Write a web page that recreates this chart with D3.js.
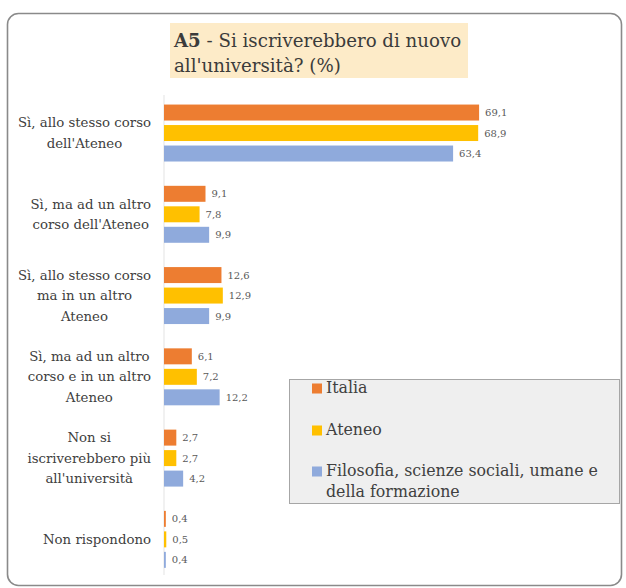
<!DOCTYPE html>
<html>
<head>
<meta charset="utf-8">
<script src="https://cdn.jsdelivr.net/npm/d3@7"></script>
<style>
  html, body { margin: 0; padding: 0; background: #fff; }
  svg { display: block; }
</style>
</head>
<body>
<svg id="chart" width="626" height="588"></svg>
<script>
// ---- data ----
const categories = [
  ["Sì, allo stesso corso", "dell'Ateneo"],
  ["Sì, ma ad un altro", "corso dell'Ateneo"],
  ["Sì, allo stesso corso", "ma in un altro", "Ateneo"],
  ["Sì, ma ad un altro", "corso e in un altro", "Ateneo"],
  ["Non si", "iscriverebbero più", "all'università"],
  ["Non rispondono"]
];
const seriesNames = ["Italia", "Ateneo", "Filosofia, scienze sociali, umane e della formazione"];
const italia    = [69.1, 9.1, 12.6, 6.1, 2.7, 0.4];
const ateneo    = [68.9, 7.8, 12.9, 7.2, 2.7, 0.5];
const filosofia = [63.4, 9.9, 9.9, 12.2, 4.2, 0.4];
const seriesValues = [italia, ateneo, filosofia];
const colors = ["#ED7D31", "#FFC000", "#8FAADC"];
const titleBold = "A5";
const titleLines = [" - Si iscriverebbero di nuovo", "all'università? (%)"];
const legendLines = [["Italia"], ["Ateneo"], ["Filosofia, scienze sociali, umane e", "della formazione"]];

const serif = '"DejaVu Serif", "Liberation Serif", serif';
const svg = d3.select("#chart");

// frame
svg.append("rect")
  .attr("x", 7.5).attr("y", 13.5).attr("width", 614).attr("height", 572)
  .attr("rx", 11).attr("ry", 11)
  .attr("fill", "#fff").attr("stroke", "#8a8a8a").attr("stroke-width", 1.6);

// title
svg.append("rect")
  .attr("x", 170).attr("y", 23).attr("width", 298).attr("height", 55)
  .attr("fill", "#FDEBC8");
const t1 = svg.append("text").attr("x", 174).attr("y", 47)
  .style("font-family", serif).attr("font-size", 18.2).attr("fill", "#3b3b3b");
t1.append("tspan").attr("font-weight", "bold").text(titleBold);
t1.append("tspan").text(titleLines[0]);
svg.append("text").attr("x", 174).attr("y", 72)
  .style("font-family", serif).attr("font-size", 18.2).attr("fill", "#3b3b3b")
  .text(titleLines[1]);

// scales
const x0 = 164;
const x = d3.scaleLinear().domain([0, 70]).range([x0, x0 + 319.2]);
const idx = d3.range(categories.length);
const y = d3.scaleBand().domain(idx).range([92.4, 580]).padding(0);
const yIn = d3.scaleBand().domain([0, 1, 2]).range([0, y.bandwidth()])
  .paddingInner(0.22).paddingOuter(0.593);

// axis line
svg.append("line")
  .attr("x1", x0).attr("x2", x0).attr("y1", 95).attr("y2", 575)
  .attr("stroke", "#e3e3e3").attr("stroke-width", 1);

// bars
const groups = svg.append("g").selectAll("g").data(idx).join("g")
  .attr("transform", i => `translate(0,${y(i)})`);
groups.each(function(i) {
  const g = d3.select(this);
  seriesValues.forEach((vals, s) => {
    g.append("rect")
      .attr("x", x(0)).attr("y", yIn(s))
      .attr("width", x(vals[i]) - x(0)).attr("height", yIn.bandwidth())
      .attr("fill", colors[s]);
    g.append("text")
      .attr("x", x(vals[i]) + 6).attr("y", yIn(s) + yIn.bandwidth() / 2)
      .attr("dy", "0.35em")
      .style("font-family", serif).attr("font-size", 10).attr("fill", "#595959")
      .text(d3.format(".1f")(vals[i]).replace(".", ","));
  });
});

// category labels
const labelRight = 151;
const lineH = 20.5;
idx.forEach(i => {
  const lines = categories[i];
  const txt = svg.append("text")
    .style("font-family", serif).attr("font-size", 13.3).attr("fill", "#404040")
    .attr("text-anchor", "middle");
  const cy = y(i) + y.bandwidth() / 2;
  const tsp = lines.map((l, k) => txt.append("tspan")
    .attr("y", cy + (k - (lines.length - 1) / 2) * lineH)
    .attr("dy", "0.35em").text(l));
  const maxW = d3.max(tsp, t => t.node().getComputedTextLength());
  tsp.forEach(t => t.attr("x", labelRight - maxW / 2));
});

// legend
svg.append("rect")
  .attr("x", 289.5).attr("y", 379.5).attr("width", 330).attr("height", 124)
  .attr("fill", "#efefef").attr("stroke", "#a6a6a6").attr("stroke-width", 1);
const legY = [393, 435, 476];
legendLines.forEach((lines, s) => {
  svg.append("rect")
    .attr("x", 312).attr("y", legY[s] - 9.5).attr("width", 10).attr("height", 10)
    .attr("fill", colors[s]);
  lines.forEach((l, k) => {
    svg.append("text")
      .attr("x", 326).attr("y", legY[s] + k * 21)
      .style("font-family", serif).attr("font-size", 15.8).attr("fill", "#404040")
      .text(l);
  });
});
</script>
</body>
</html>
